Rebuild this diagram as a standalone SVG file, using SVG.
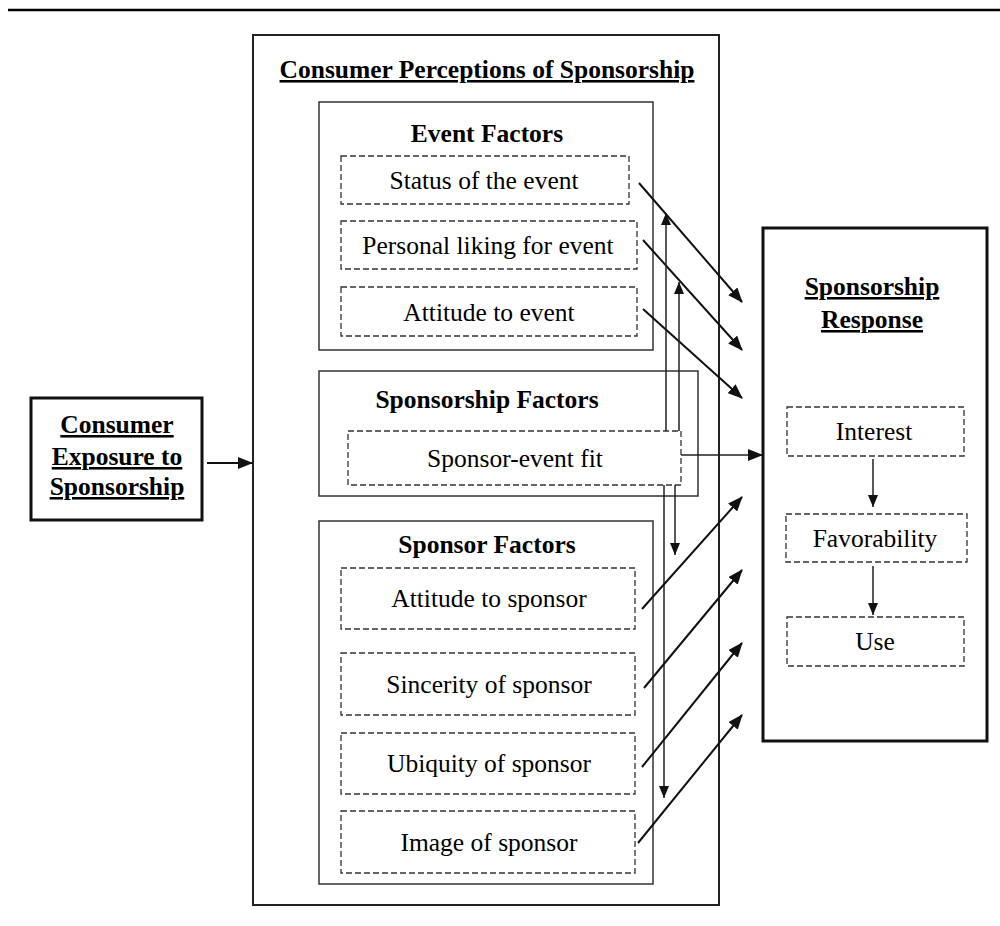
<svg xmlns="http://www.w3.org/2000/svg" width="1000" height="926" viewBox="0 0 1000 926">
<style>
text{font-family:"Liberation Serif","Times New Roman",serif;fill:#000;text-anchor:middle}
.b{font-weight:bold;font-size:25.5px}
.u{text-decoration:underline}
.r{font-size:25.5px}
.thick{fill:#fff;stroke:#111;stroke-width:3}
.outer{fill:#fff;stroke:#222;stroke-width:2}
.grp{fill:#fff;stroke:#333;stroke-width:1.5}
.dash{fill:#fff;stroke:#333;stroke-width:1.3;stroke-dasharray:6 3}
.con{fill:none;stroke:#111;stroke-width:2}
.con1{fill:none;stroke:#222;stroke-width:1.5}
</style>
<defs>
<marker id="ah" markerUnits="userSpaceOnUse" markerWidth="15" markerHeight="12" refX="14" refY="6" orient="auto"><path d="M0,0 L15,6 L0,12 z" fill="#111"/></marker>
<marker id="ahs" markerUnits="userSpaceOnUse" markerWidth="12" markerHeight="10" refX="12" refY="5" orient="auto"><path d="M0,0 L12,5 L0,10 z" fill="#111"/></marker>
</defs>
<rect width="1000" height="926" fill="#fff"/>
<line x1="8" y1="10" x2="1000" y2="10" stroke="#000" stroke-width="2.5"/>

<g id="exposure">
<rect class="thick" x="31" y="398" width="171" height="122"/>
<text class="b u" x="117" y="433">Consumer</text>
<text class="b u" x="117" y="465">Exposure to</text>
<text class="b u" x="117" y="495">Sponsorship</text>
</g>

<g id="perceptions">
<rect class="outer" x="253" y="35" width="466" height="870"/>
<text class="b u" x="487" y="78">Consumer Perceptions of Sponsorship</text>
</g>

<g id="event-factors">
<rect class="grp" x="319" y="102" width="334" height="248"/>
<text class="b" x="487" y="142">Event Factors</text>
</g>
<g id="status"><rect class="dash" x="341" y="156" width="288" height="48"/><text class="r" x="484" y="189">Status of the event</text></g>
<g id="liking"><rect class="dash" x="341" y="221" width="296" height="48"/><text class="r" x="488" y="254">Personal liking for event</text></g>
<g id="att-event"><rect class="dash" x="341" y="287" width="296" height="49"/><text class="r" x="489" y="321">Attitude to event</text></g>

<g id="sponsorship-factors">
<rect class="grp" x="319" y="371" width="379" height="125"/>
<text class="b" x="487" y="408">Sponsorship Factors</text>
</g>
<g id="fit"><rect class="dash" x="348" y="431" width="333" height="54"/><text class="r" x="515" y="467">Sponsor-event fit</text></g>

<g id="sponsor-factors">
<rect class="grp" x="319" y="521" width="334" height="363"/>
<text class="b" x="487" y="553">Sponsor Factors</text>
</g>
<g id="att-sponsor"><rect class="dash" x="341" y="568" width="294" height="61"/><text class="r" x="489" y="607">Attitude to sponsor</text></g>
<g id="sincerity"><rect class="dash" x="341" y="653" width="294" height="62"/><text class="r" x="489" y="693">Sincerity of sponsor</text></g>
<g id="ubiquity"><rect class="dash" x="341" y="733" width="294" height="61"/><text class="r" x="489" y="772">Ubiquity of sponsor</text></g>
<g id="image"><rect class="dash" x="341" y="811" width="294" height="62"/><text class="r" x="489" y="851">Image of sponsor</text></g>

<g id="response">
<rect class="thick" x="763" y="228" width="224" height="513"/>
<text class="b u" x="872" y="295">Sponsorship</text>
<text class="b u" x="872" y="328">Response</text>
</g>
<g id="interest"><rect class="dash" x="787" y="407" width="177" height="49"/><text class="r" x="874" y="440">Interest</text></g>
<g id="favorability"><rect class="dash" x="786" y="514" width="181" height="48"/><text class="r" x="875" y="547">Favorability</text></g>
<g id="use"><rect class="dash" x="787" y="617" width="177" height="49"/><text class="r" x="875" y="650">Use</text></g>

<g id="connectors">
<line class="con" x1="207" y1="463" x2="252" y2="463" marker-end="url(#ah)"/>
<line class="con" x1="639" y1="183" x2="742" y2="302" marker-end="url(#ah)"/>
<line class="con" x1="643" y1="240" x2="742" y2="350" marker-end="url(#ah)"/>
<line class="con" x1="643" y1="309" x2="742" y2="398" marker-end="url(#ah)"/>
<line class="con1" x1="666" y1="431" x2="666" y2="213" marker-end="url(#ahs)"/>
<line class="con1" x1="679" y1="431" x2="679" y2="282" marker-end="url(#ahs)"/>
<line class="con1" x1="675" y1="485" x2="675" y2="555" marker-end="url(#ahs)"/>
<line class="con1" x1="664" y1="485" x2="664" y2="798" marker-end="url(#ahs)"/>
<line class="con1" x1="681" y1="455" x2="762" y2="455" marker-end="url(#ah)"/>
<line class="con" x1="642" y1="609" x2="742" y2="497" marker-end="url(#ah)"/>
<line class="con" x1="644" y1="688" x2="742" y2="570" marker-end="url(#ah)"/>
<line class="con" x1="642" y1="767" x2="742" y2="643" marker-end="url(#ah)"/>
<line class="con" x1="638" y1="843" x2="742" y2="715" marker-end="url(#ah)"/>
<line class="con1" x1="873" y1="459" x2="873" y2="507" marker-end="url(#ahs)"/>
<line class="con1" x1="873" y1="566" x2="873" y2="615" marker-end="url(#ahs)"/>
</g>
</svg>
